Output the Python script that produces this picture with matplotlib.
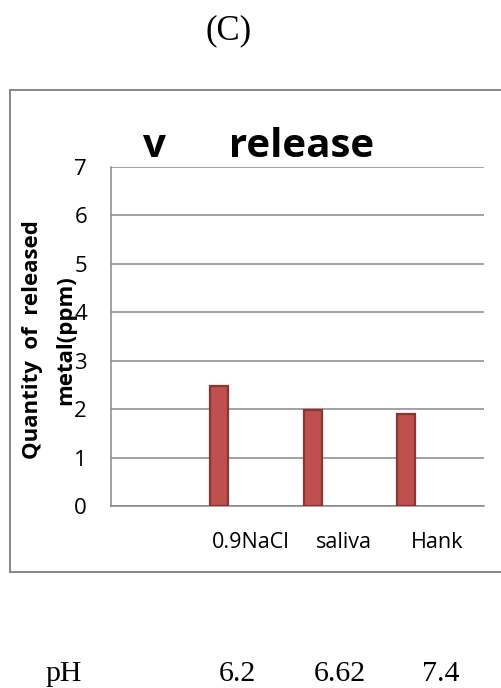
import matplotlib
matplotlib.use("Agg")
import matplotlib.pyplot as plt
from matplotlib.lines import Line2D
import numpy as np

# ---- data ----
categories = ["", "0.9NaCl", "saliva", "Hank"]
released = [np.nan, 2.48, 1.98, 1.90]
yticks = [0, 1, 2, 3, 4, 5, 6, 7]
ph_label = "pH"
ph_values = ["6.2", "6.62", "7.4"]

W, H = 501, 688
fig = plt.figure(figsize=(W / 100, H / 100), dpi=100)

grid_col = "#878787"
sans = ["Open Sans", "DejaVu Sans"]
serif = ["Liberation Serif", "DejaVu Serif"]

# outer frame (top, left, bottom; right edge is cut off by the image)
fx0 = 10 / W
fy_top = 1 - 90 / H
fy_bot = 1 - 572 / H
for xs, ys in [([fx0, 1.0], [fy_top, fy_top]),
               ([fx0, fx0], [fy_top, fy_bot]),
               ([fx0, 1.0], [fy_bot, fy_bot])]:
    fig.add_artist(Line2D(xs, ys, transform=fig.transFigure,
                          color=grid_col, lw=1.4))

ax = fig.add_axes([110.7 / W, 1 - 506 / H, (484 - 110.7) / W, (506 - 167) / H])

x = np.arange(len(categories))
ax.bar(x - 0.336, released, width=0.195, color="#C0504D",
       edgecolor="#8B3634", linewidth=1.6, zorder=3)

ax.set_xlim(-0.5, len(categories) - 0.5)
ax.set_ylim(0, 7)
ax.set_yticks(yticks)
ax.set_yticklabels([str(v) for v in yticks], fontsize=16, family=sans)
ax.set_xticks(x)
ax.set_xticklabels(categories, fontsize=15.5, family=sans)
ax.tick_params(axis="y", length=0, pad=17)
ax.tick_params(axis="x", length=0, pad=19)
ax.yaxis.grid(True, color=grid_col, lw=1.1, zorder=0)
ax.set_axisbelow(True)
for s in ["top", "right"]:
    ax.spines[s].set_visible(False)
for s in ["left", "bottom"]:
    ax.spines[s].set_color(grid_col)
    ax.spines[s].set_linewidth(1.1)

# title
fig.text(143 / W, 1 - 157 / H, "v      release", ha="left", va="baseline",
         fontsize=29, fontweight="bold", family=sans)

# y label (two lines)
fig.text(33 / W, 1 - 340 / H, "Quantity  of  released", rotation=90,
         ha="center", va="center", fontsize=16, fontweight="bold", family=sans)
fig.text(66 / W, 1 - 340 / H, "metal(ppm)", rotation=90,
         ha="center", va="center", fontsize=16, fontweight="bold", family=sans)

# panel letter
fig.text(229 / W, 1 - 39 / H, "(C)", ha="center", va="baseline",
         fontsize=25, family=serif)

# pH row
fig.text(64 / W, 1 - 681 / H, ph_label, ha="center", va="baseline",
         fontsize=21.5, family=serif)
for xp, v in zip([237, 340, 441], ph_values):
    fig.text(xp / W, 1 - 681 / H, v, ha="center", va="baseline",
             fontsize=21.5, family=serif)

fig.savefig("out.png", dpi=100)
